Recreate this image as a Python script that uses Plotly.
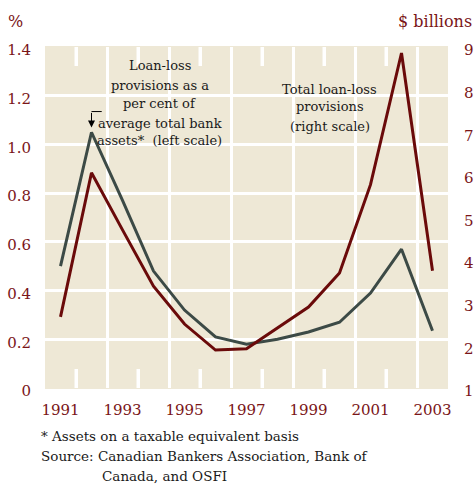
import plotly.graph_objects as go

# data
years = list(range(1991, 2004))
pct_of_assets = [0.50, 1.05, 0.77, 0.48, 0.32, 0.21, 0.18, 0.20, 0.23, 0.27, 0.39, 0.57, 0.235]
total_provisions = [2.67, 6.05, 4.71, 3.39, 2.50, 1.89, 1.92, 2.40, 2.90, 3.70, 5.77, 8.86, 3.75]

left_ticks = [0, 0.2, 0.4, 0.6, 0.8, 1.0, 1.2, 1.4]
left_labels = ['0', '0.2', '0.4', '0.6', '0.8', '1.0', '1.2', '1.4']
right_ticks = list(range(1, 10))
year_ticks = list(range(1991, 2004, 2))
grid_years = [y + 0.5 for y in range(1992, 2003, 2)]
short_tick_years = [y + 0.5 for y in range(1991, 2002, 2)]

left_note = ['Loan-loss', 'provisions as a', 'per cent of',
             'average total bank', 'assets*  (left scale)']
right_note = ['Total loan-loss', 'provisions', '(right scale)']

MAROON = '#6A0A0A'
SLATE = '#3C4A46'
LABEL = '#7A1518'
BG = '#EEE8D6'
FONT = 'DejaVu Serif'

# plot area in pixels: top 47, bottom 388 (341 px tall)
def py(pix):
    return (388 - pix) / 341

fig = go.Figure()
fig.add_trace(go.Scatter(x=years, y=pct_of_assets, mode='lines',
                         line=dict(color=SLATE, width=3), xaxis='x', yaxis='y'))
fig.add_trace(go.Scatter(x=years, y=total_provisions, mode='lines',
                         line=dict(color=MAROON, width=3), xaxis='x2', yaxis='y2'))

# short white ticks at top and bottom
for xv in short_tick_years:
    for y0, y1 in [(0, 0.078), (1.322, 1.4)]:
        fig.add_shape(type='line', xref='x', yref='y', x0=xv, x1=xv, y0=y0, y1=y1,
                      line=dict(color='#FFFFFF', width=3))

# elbow of the pointer arrow
fig.add_shape(type='line', xref='x', yref='y', x0=1992, x1=1992.33, y0=1.135, y1=1.135,
              line=dict(color='black', width=1))
fig.add_annotation(x=1992, y=1.07, xref='x', yref='y', ax=0, ay=-16,
                   showarrow=True, arrowhead=2, arrowsize=1.4, arrowwidth=1,
                   arrowcolor='black', text='')

note = dict(family=FONT, size=13, color='#1a1a1a')
for txt, pix in zip(left_note, [66, 85, 104, 123, 140]):
    fig.add_annotation(x=0.285, y=py(pix), xref='paper', yref='paper', showarrow=False,
                       xanchor='center', yanchor='middle', text=txt, font=note)
for txt, pix in zip(right_note, [89, 107, 126]):
    fig.add_annotation(x=0.707, y=py(pix), xref='paper', yref='paper', showarrow=False,
                       xanchor='center', yanchor='middle', text=txt, font=note)

# axis unit labels
fig.add_annotation(x=-0.072, y=py(21), xref='paper', yref='paper', showarrow=False,
                   xanchor='center', yanchor='middle', text='%',
                   font=dict(family=FONT, size=16, color=LABEL))
fig.add_annotation(x=1.065, y=py(21), xref='paper', yref='paper', showarrow=False,
                   text='$ billions', xanchor='right', yanchor='middle',
                   font=dict(family=FONT, size=16, color=LABEL))

# footnotes
foot = dict(family=FONT, size=13.5, color='#1a1a1a')
fig.add_annotation(x=-0.015, y=py(436), xref='paper', yref='paper', showarrow=False,
                   xanchor='left', yanchor='middle',
                   text='* Assets on a taxable equivalent basis', font=foot)
fig.add_annotation(x=-0.015, y=py(456), xref='paper', yref='paper', showarrow=False,
                   xanchor='left', yanchor='middle',
                   text='Source: Canadian Bankers Association, Bank of', font=foot)
fig.add_annotation(x=0.136, y=py(476), xref='paper', yref='paper', showarrow=False,
                   xanchor='left', yanchor='middle',
                   text='Canada, and OSFI', font=foot)

fig.update_layout(
    width=474, height=487,
    margin=dict(l=45, r=26, t=47, b=99),
    plot_bgcolor=BG, paper_bgcolor='white',
    showlegend=False,
    xaxis=dict(range=[1990.5, 2003.5], tickvals=year_ticks, ticks='', showgrid=False,
               zeroline=False, ticklabelstandoff=11, automargin=False,
               tickfont=dict(family=FONT, size=15, color=LABEL),
               minor=dict(tickmode='array', tickvals=grid_years,
                          showgrid=True, gridcolor='white', gridwidth=3, ticks='')),
    xaxis2=dict(range=[1990.5, 2003.5], overlaying='x', side='bottom',
                tickvals=short_tick_years, ticks='inside', ticklen=19, tickwidth=3,
                tickcolor='white', showticklabels=False, showgrid=False, zeroline=False,
                showline=True, linecolor=BG, linewidth=1, mirror='ticks', automargin=False),
    yaxis=dict(range=[0, 1.4], tickvals=left_ticks, ticktext=left_labels, ticks='',
               showgrid=True, gridcolor='white', gridwidth=3, zeroline=False,
               ticklabelstandoff=13, ticklabelshift=3, automargin=False,
               tickfont=dict(family=FONT, size=15, color=LABEL)),
    yaxis2=dict(range=[1, 9], tickvals=right_ticks, overlaying='y', side='right',
                showgrid=False, zeroline=False, ticks='', ticklabelstandoff=15,
                ticklabelshift=3, automargin=False,
                tickfont=dict(family=FONT, size=15, color=LABEL)),
)

fig.write_html("out.html", config={'displayModeBar': False},
               post_script="document.body.style.margin='0';")
